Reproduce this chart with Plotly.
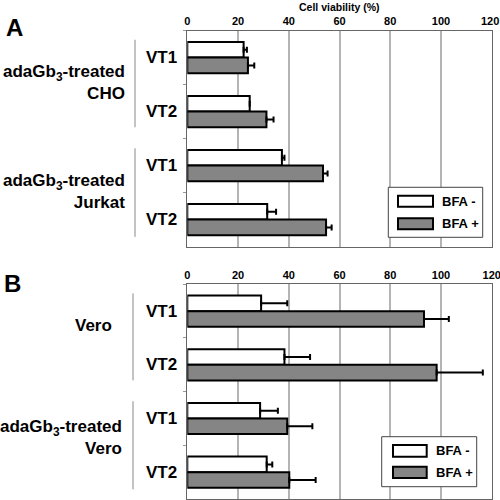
import plotly.graph_objects as go

# ---------------- data ----------------
top_categories = ["CHO VT1", "CHO VT2", "Jurkat VT1", "Jurkat VT2"]
top_bfa_minus = [22.2, 24.6, 37.3, 31.5]
top_bfa_minus_err = [1.3, 0.0, 1.0, 3.5]
top_bfa_plus = [23.9, 31.2, 53.5, 54.7]
top_bfa_plus_err = [2.5, 2.8, 1.8, 2.2]

bot_categories = ["Vero VT1", "Vero VT2", "adaVero VT1", "adaVero VT2"]
bot_bfa_minus = [29.1, 38.3, 28.7, 31.3]
bot_bfa_minus_err = [10.3, 10.1, 7.0, 2.2]
bot_bfa_plus = [93.3, 98.3, 39.4, 40.2]
bot_bfa_plus_err = [9.8, 18.2, 9.9, 10.4]

vt_labels = ["VT1", "VT2", "VT1", "VT2"]
x_ticks = [0, 20, 40, 60, 80, 100, 120]
series_names = ["BFA -", "BFA +"]
series_colors = ["#ffffff", "#858585"]

FONT = "Liberation Sans, Arial, sans-serif"

fig = go.Figure()

def add_panel(cats, minus, minus_err, plus, plus_err, xa, ya):
    for name, vals, errs, col in [(series_names[0], minus, minus_err, series_colors[0]),
                                  (series_names[1], plus, plus_err, series_colors[1])]:
        fig.add_trace(go.Bar(
            y=cats, x=vals, orientation="h", name=name,
            marker=dict(color=col, line=dict(color="black", width=2)),
            error_x=dict(type="data", array=errs, arrayminus=[0] * len(errs),
                         symmetric=False, color="black", thickness=2, width=3),
            xaxis=xa, yaxis=ya, showlegend=False,
        ))

add_panel(top_categories, top_bfa_minus, top_bfa_minus_err, top_bfa_plus, top_bfa_plus_err, "x", "y")
add_panel(bot_categories, bot_bfa_minus, bot_bfa_minus_err, bot_bfa_plus, bot_bfa_plus_err, "x2", "y2")

xax = dict(range=[0, 120], tickvals=x_ticks, side="top", showgrid=True,
           gridcolor="#b4b4b4", gridwidth=1.5, showline=True, mirror=True,
           linecolor="#666666", linewidth=1, zeroline=False, ticks="",
           ticklabeloverflow="allow", automargin=False,
           tickfont=dict(family=FONT, size=11, color="black", weight="bold"),
           domain=[0.3746, 0.9834], fixedrange=True)
yax = dict(autorange="reversed", showticklabels=False, showline=True, mirror=True,
           linecolor="#666666", linewidth=1, ticks="outside", tickson="boundaries",
           ticklen=3, tickcolor="#999999", showgrid=False, zeroline=False, automargin=False)

fig.update_layout(
    width=500, height=500,
    margin=dict(l=0, r=0, t=0, b=0, autoexpand=False),
    paper_bgcolor="white", plot_bgcolor="white",
    barmode="group", bargap=0.42, bargroupgap=0.0,
    # top axis: gridlines at every tick; its last label is drawn as an annotation below
    xaxis=dict(xax, anchor="y", tickvals=x_ticks, ticktext=[str(t) for t in x_ticks[:-1]] + [""]),
    yaxis=dict(yax, domain=[0.5068, 0.9388], anchor="x"),
    xaxis2=dict(xax, anchor="y2"),
    yaxis2=dict(yax, domain=[0.002, 0.4314], anchor="x2"),
    showlegend=False,
)

ann = []
shapes = []
bold = lambda s: dict(family=FONT, size=s, color="black", weight="bold")

# axis title
ann.append(dict(text="Cell viability (%)", x=0.678, y=1 - 7 / 500, xref="paper", yref="paper",
                xanchor="center", yanchor="middle", showarrow=False, font=bold(10.5)))
# last tick label of the top axis, at the right end of the axis domain (= 120)
ann.append(dict(text=str(x_ticks[-1]), x=1.0, xref="x domain", y=1 - 20.5 / 500, yref="paper",
                xanchor="center", yanchor="middle", showarrow=False, font=bold(11), xshift=-2))
# panel letters
ann.append(dict(text="A", x=14 / 500, y=1 - 27 / 500, xref="paper", yref="paper",
                showarrow=False, font=bold(24), xanchor="center", yanchor="middle"))
ann.append(dict(text="B", x=12 / 500, y=1 - 283.5 / 500, xref="paper", yref="paper",
                showarrow=False, font=bold(24), xanchor="center", yanchor="middle"))

# VT labels
for cats, yr in [(top_categories, "y"), (bot_categories, "y2")]:
    for c, lab in zip(cats, vt_labels):
        ann.append(dict(text=lab, x=179 / 500, y=c, xref="paper", yref=yr,
                        xanchor="right", yanchor="middle", showarrow=False, font=bold(17)))

# group labels
groups = [
    ("adaGb<sub>3</sub>-treated<br>CHO", "y", 0.5, 127, 2.5),
    ("adaGb<sub>3</sub>-treated<br>Jurkat", "y", 2.5, 127, 1),
    ("Vero", "y2", 0.5, 114, 12),
    ("adaGb<sub>3</sub>-treated<br>Vero", "y2", 2.5, 124, 8),
]
for txt, yr, yv, xr, ys in groups:
    ann.append(dict(text=txt, x=xr / 500, y=yv, xref="paper", yref=yr, xanchor="right",
                    yanchor="middle", align="right", showarrow=False, font=bold(17), yshift=ys))

# bracket lines
for yr, xp in [("y", 135), ("y2", 133)]:
    for y0, y1 in [(-0.33, 1.29), (1.68, 3.32)]:
        shapes.append(dict(type="line", xref="paper", yref=yr, x0=xp / 500, x1=xp / 500,
                           y0=y0, y1=y1, line=dict(color="#888888", width=1)))

# legends (manual, to match wide swatches)
def legend_box(bx0, by0, bx1, by1, sx0, sx1, sw_rows, tx):
    shapes.append(dict(type="rect", xref="paper", yref="paper",
                       x0=bx0 / 500, x1=bx1 / 500, y0=1 - by1 / 500, y1=1 - by0 / 500,
                       line=dict(color="#444444", width=1), fillcolor="white"))
    for (ry0, ry1), col, name in zip(sw_rows, series_colors, series_names):
        shapes.append(dict(type="rect", xref="paper", yref="paper",
                           x0=sx0 / 500, x1=sx1 / 500, y0=1 - ry1 / 500, y1=1 - ry0 / 500,
                           line=dict(color="black", width=2), fillcolor=col))
        ann.append(dict(text=name, x=tx / 500, y=1 - (ry0 + ry1) / 2 / 500, xref="paper",
                        yref="paper", xanchor="left", yanchor="middle", showarrow=False,
                        font=bold(13)))

legend_box(388.3, 187.3, 482.7, 237.3, 398, 433, [(195.7, 206.7), (218.3, 229.3)], 440)
legend_box(381.7, 436.7, 476.7, 486.7, 393, 426.7, [(445, 456.7), (466.7, 478)], 434)

fig.update_layout(annotations=ann, shapes=shapes)
# remove the browser's default 8px body margin so the 500x500 figure fills the window
fig.write_html("out.html", config={"displayModeBar": False},
               post_script="document.body.style.margin='0';")
